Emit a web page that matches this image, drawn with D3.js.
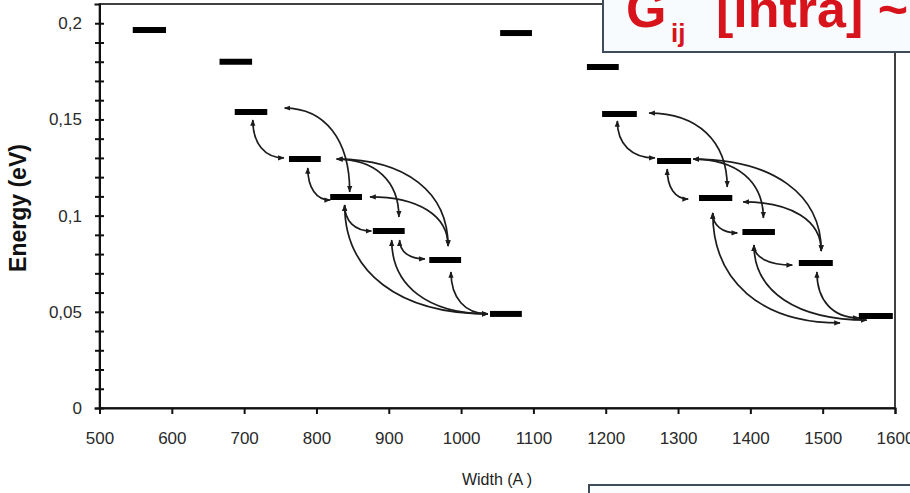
<!DOCTYPE html>
<html>
<head>
<meta charset="utf-8">
<script src="https://cdn.jsdelivr.net/npm/d3@7"></script>
<style>
  html, body { margin: 0; padding: 0; background: #fff; overflow: hidden; }
  svg { display: block; font-family: "Liberation Sans", Arial, sans-serif; }
</style>
</head>
<body>
<svg id="chart" width="910" height="493"></svg>
<script>
// Axis ticks
const widthTicks = [500, 600, 700, 800, 900, 1000, 1100, 1200, 1300, 1400, 1500, 1600];
const energyTicks = [0, 0.01, 0.02, 0.03, 0.04, 0.05, 0.06, 0.07, 0.08, 0.09, 0.1,
                     0.11, 0.12, 0.13, 0.14, 0.15, 0.16, 0.17, 0.18, 0.19, 0.2];
const energyLabelValues = [0, 0.05, 0.1, 0.15, 0.2];
const energyLabelTexts = ["0", "0,05", "0,1", "0,15", "0,2"];

// Sub-band levels: [width from (Å), width to (Å), energy (eV)]
const levelsLeft = [
  [546, 592, 0.1965],
  [666, 711, 0.1800],
  [687, 732, 0.1539],
  [762, 806, 0.1294],
  [819, 863, 0.1097],
  [878, 922, 0.0920],
  [956, 1000, 0.0769],
  [1040, 1084, 0.0489]
];
const levelsRight = [
  [1054, 1098, 0.1949],
  [1174, 1218, 0.1773],
  [1195, 1243, 0.1528],
  [1271, 1318, 0.1284],
  [1329, 1375, 0.1092],
  [1389, 1434, 0.0915],
  [1467, 1514, 0.0754],
  [1550, 1597, 0.0478]
];

// Intra-subband transitions: [width a, energy a, width b, energy b, leaving a "h"orizontally or "v"ertically]
const transitionsLeft = [
  [712, 0.1497, 755, 0.1300, "v"],
  [756, 0.1559, 846, 0.1123, "h"],
  [788, 0.1248, 819, 0.1081, "v"],
  [828, 0.1294, 914, 0.0993, "h"],
  [828, 0.1294, 982, 0.0842, "h"],
  [874, 0.1097, 982, 0.0842, "h"],
  [839, 0.1055, 876, 0.0920, "v"],
  [839, 0.1055, 1037, 0.0489, "v"],
  [904, 0.0873, 1037, 0.0489, "v"],
  [915, 0.0873, 950, 0.0775, "v"],
  [986, 0.0707, 1037, 0.0489, "v"]
];
const transitionsRight = [
  [1216, 0.1492, 1268, 0.1300, "v"],
  [1260, 0.1533, 1368, 0.1149, "h"],
  [1321, 0.1294, 1418, 0.0988, "h"],
  [1321, 0.1294, 1498, 0.0816, "h"],
  [1285, 0.1242, 1314, 0.1086, "v"],
  [1390, 0.1071, 1498, 0.0816, "h"],
  [1348, 0.1014, 1382, 0.0910, "v"],
  [1348, 0.1014, 1524, 0.0442, "v"],
  [1405, 0.0847, 1561, 0.0457, "v"],
  [1405, 0.0847, 1458, 0.0743, "v"],
  [1492, 0.0707, 1550, 0.0468, "v"]
];

const svg = d3.select("#chart");

const x = d3.scaleLinear().domain([500, 1600]).range([99.5, 895]);
const y = d3.scaleLinear().domain([0, 0.21]).range([408, 4]);

// arrowheads
const defs = svg.append("defs");
defs.append("marker")
  .attr("id", "head")
  .attr("viewBox", "0 0 10 10")
  .attr("refX", 9).attr("refY", 5)
  .attr("markerUnits", "userSpaceOnUse")
  .attr("markerWidth", 6.5).attr("markerHeight", 6.5)
  .attr("orient", "auto-start-reverse")
  .append("path")
  .attr("d", "M0,1 L10,5 L0,9 Z")
  .attr("fill", "#1c1c1c");

// plot frame
svg.append("rect")
  .attr("x", x(500)).attr("y", y(0.21))
  .attr("width", x(1600) - x(500)).attr("height", y(0) - y(0.21))
  .attr("fill", "none").attr("stroke", "#111").attr("stroke-width", 1.6);

// y axis with crossing ticks
const yAxis = svg.append("g")
  .attr("transform", `translate(${x(500)},0)`)
  .call(d3.axisLeft(y).tickValues(energyTicks).tickSize(5).tickFormat(""));
yAxis.select(".domain").attr("stroke", "#111").attr("stroke-width", 2);
yAxis.selectAll(".tick line").attr("x1", 4.5).attr("x2", -4.5)
  .attr("stroke", "#111").attr("stroke-width", 2);

svg.append("g").selectAll("text")
  .data(energyLabelValues)
  .join("text")
  .attr("x", 82)
  .attr("y", d => y(d) + 6)
  .attr("text-anchor", "end")
  .attr("font-size", 17)
  .attr("fill", "#2a2a2a")
  .text((d, i) => energyLabelTexts[i]);

// x axis
const xAxis = svg.append("g")
  .attr("transform", `translate(0,${y(0)})`)
  .call(d3.axisBottom(x).tickValues(widthTicks).tickSize(6).tickFormat(d => d));
xAxis.select(".domain").attr("stroke", "#111").attr("stroke-width", 2);
xAxis.selectAll(".tick line").attr("stroke", "#111").attr("stroke-width", 2);
xAxis.selectAll(".tick text")
  .attr("y", 36).attr("dy", null)
  .attr("font-size", 17)
  .attr("font-family", "Liberation Sans, Arial, sans-serif")
  .attr("fill", "#2a2a2a");

// axis titles
svg.append("text")
  .attr("transform", `translate(26,${208}) rotate(-90)`)
  .attr("text-anchor", "middle")
  .attr("font-size", 23)
  .attr("font-weight", "bold")
  .attr("fill", "#111")
  .text("Energy (eV)");

svg.append("text")
  .attr("x", 497).attr("y", 485)
  .attr("text-anchor", "middle")
  .attr("font-size", 16)
  .attr("fill", "#222")
  .text("Width (A )");

// transitions
function curve(t) {
  const x1 = x(t[0]), y1 = y(t[1]), x2 = x(t[2]), y2 = y(t[3]);
  const dx = x2 - x1, dy = y2 - y1, k = 0.62;
  const p = d3.path();
  p.moveTo(x1, y1);
  if (t[4] === "h") {
    p.bezierCurveTo(x1 + k * dx, y1, x2, y2 - k * dy, x2, y2);
  } else {
    p.bezierCurveTo(x1, y1 + k * dy, x2 - k * dx, y2, x2, y2);
  }
  return p.toString();
}

svg.append("g")
  .selectAll("path")
  .data(transitionsLeft.concat(transitionsRight))
  .join("path")
  .attr("d", curve)
  .attr("fill", "none")
  .attr("stroke", "#1c1c1c")
  .attr("stroke-width", 1.7)
  .attr("marker-start", "url(#head)")
  .attr("marker-end", "url(#head)");

// levels
svg.append("g")
  .selectAll("line")
  .data(levelsLeft.concat(levelsRight))
  .join("line")
  .attr("x1", d => x(d[0])).attr("x2", d => x(d[1]))
  .attr("y1", d => y(d[2])).attr("y2", d => y(d[2]))
  .attr("stroke", "#000")
  .attr("stroke-width", 6);

// title panel
svg.append("rect")
  .attr("x", 603).attr("y", -10).attr("width", 330).attr("height", 62)
  .attr("fill", "#f8fbfe").attr("stroke", "#3d4b5a").attr("stroke-width", 2);
const title = svg.append("g").attr("fill", "#d7141c").attr("font-weight", "bold");
title.append("text").attr("x", 626).attr("y", 27).attr("font-size", 52).text("G");
title.append("text").attr("x", 671).attr("y", 42).attr("font-size", 26).text("ij");
title.append("text").attr("x", 716).attr("y", 27).attr("font-size", 52).text("[intra] ~");

// lower panel
svg.append("rect")
  .attr("x", 589).attr("y", 485).attr("width", 340).attr("height", 30)
  .attr("fill", "#fbfcfe").attr("stroke", "#3d4b5a").attr("stroke-width", 2);
</script>
</body>
</html>
